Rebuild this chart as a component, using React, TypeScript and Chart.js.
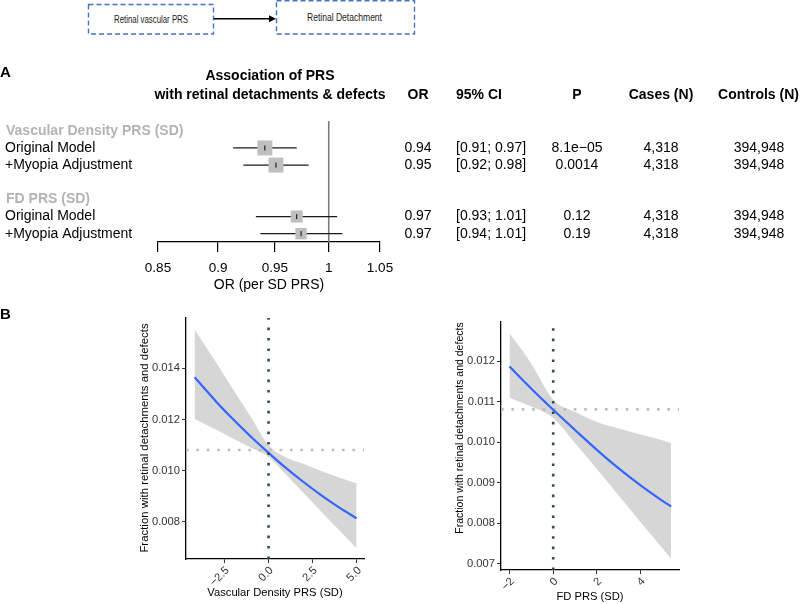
import React, { useEffect, useRef } from 'react';
import { Chart, registerables } from 'chart.js';

Chart.register(...registerables);

const FONT = "'Liberation Sans', Arial, Helvetica, sans-serif";

// ---------- Top diagram ----------
const diagramFrom = 'Retinal vascular PRS';
const diagramTo = 'Retinal Detachment';

// ---------- Panel A (forest plot) ----------
const groupLabels = ['Vascular Density PRS (SD)', 'FD PRS (SD)'];
const groupRows = [0, 4];
const modelLabels = ['Original Model', '+Myopia Adjustment', 'Original Model', '+Myopia Adjustment'];
const modelRows = [1, 2, 5, 6];
const orValues = [0.941, 0.951, 0.970, 0.974];
const ciLower = [0.913, 0.922, 0.933, 0.937];
const ciUpper = [0.970, 0.981, 1.008, 1.013];
const studyWeights = [1.0, 1.0, 0.8, 0.76];
const orLabels = ['0.94', '0.95', '0.97', '0.97'];
const ciLabels = ['[0.91; 0.97]', '[0.92; 0.98]', '[0.93; 1.01]', '[0.94; 1.01]'];
const pLabels = ['8.1e\u221205', '0.0014', '0.12', '0.19'];
const casesLabels = ['4,318', '4,318', '4,318', '4,318'];
const controlsLabels = ['394,948', '394,948', '394,948', '394,948'];
const orAxisTicks = [0.85, 0.9, 0.95, 1, 1.05];
const orAxisTickLabels = ['0.85', '0.9', '0.95', '1', '1.05'];

// ---------- Panel B left (Vascular Density PRS) ----------
const vdX = [-4.2, -3, -2, -1, 0, 1, 2, 3, 4, 5];
const vdFit = [0.01365, 0.01272, 0.01200, 0.01133, 0.01070, 0.01010, 0.00955, 0.00904, 0.00857, 0.00814];
const vdUpper = [0.01552, 0.01425, 0.01317, 0.01209, 0.01100, 0.01052, 0.01026, 0.00999, 0.00974, 0.00951];
const vdLower = [0.01202, 0.01161, 0.01125, 0.01090, 0.01055, 0.00984, 0.00912, 0.00840, 0.00768, 0.00697];
const vdRefRate = 0.01081;
const vdXTicks = [-2.5, 0, 2.5, 5];
const vdXTickLabels = ['\u22122.5', '0.0', '2.5', '5.0'];
const vdYTicks = [0.008, 0.010, 0.012, 0.014];

// ---------- Panel B right (FD PRS) ----------
const fdX = [-2, -1, 0, 1, 2, 3, 4, 5, 5.4];
const fdFit = [0.01187, 0.01132, 0.01080, 0.01030, 0.00981, 0.00935, 0.00893, 0.00855, 0.00841];
const fdUpper = [0.01269, 0.01194, 0.01105, 0.01075, 0.01050, 0.01034, 0.01019, 0.01005, 0.00998];
const fdLower = [0.01110, 0.01088, 0.01060, 0.00998, 0.00933, 0.00868, 0.00802, 0.00738, 0.00712];
const fdRefRate = 0.01081;
const fdXTicks = [-2, 0, 2, 4];
const fdXTickLabels = ['\u22122', '0', '2', '4'];
const fdYTicks = [0.007, 0.008, 0.009, 0.010, 0.011, 0.012];

const yTitle = 'Fraction with retinal detachments and defects';

Chart.defaults.font.family = FONT;

function forestConfig(): any {
  const datasets: any[] = [];
  datasets.push({
    data: modelRows.map((r, i) => ({ x: orValues[i], y: r })),
    showLine: false,
    pointStyle: 'line',
    pointRotation: 90,
    pointRadius: 2.5,
    pointBorderColor: '#000',
    pointBorderWidth: 1,
    order: 0,
  });
  datasets.push({
    data: modelRows.map((r, i) => ({ x: orValues[i], y: r })),
    showLine: false,
    pointStyle: 'rect',
    pointRadius: studyWeights.map((w) => 10.6 * w),
    pointBackgroundColor: '#bfbfbf',
    pointBorderWidth: 0,
    order: 1,
  });
  modelRows.forEach((r, i) => {
    datasets.push({
      data: [{ x: ciLower[i], y: r }, { x: ciUpper[i], y: r }],
      borderColor: '#1a1a1a',
      borderWidth: 1.2,
      pointRadius: 0,
      order: 2,
    });
  });
  datasets.push({
    data: [{ x: 1, y: -0.571 }, { x: 1, y: 6.484 }],
    borderColor: '#7a7a7a',
    borderWidth: 1.6,
    pointRadius: 0,
    order: 3,
  });

  const textPlugin = {
    id: 'forestText',
    afterDraw(chart: any) {
      const ctx = chart.ctx;
      const ys = chart.scales.y;
      const off = 60;
      ctx.save();
      ctx.textBaseline = 'middle';
      ctx.fillStyle = '#000';
      ctx.font = `bold 15px ${FONT}`;
      ctx.textAlign = 'left';
      ctx.fillText('A', 0, 73 - off);
      ctx.font = `bold 14px ${FONT}`;
      ctx.textAlign = 'center';
      ctx.fillText('Association of PRS', 270, 76 - off);
      ctx.fillText('with retinal detachments & defects', 270, 95 - off);
      ctx.fillText('OR', 418, 95 - off);
      ctx.fillText('P', 577, 95 - off);
      ctx.fillText('Cases (N)', 661, 95 - off);
      ctx.fillText('Controls (N)', 758.5, 95 - off);
      ctx.textAlign = 'left';
      ctx.fillText('95% CI', 456, 95 - off);
      ctx.fillStyle = '#b3b3b3';
      groupLabels.forEach((g, i) => {
        ctx.fillText(g, 6, ys.getPixelForValue(groupRows[i]));
      });
      ctx.font = `14px ${FONT}`;
      ctx.fillStyle = '#000';
      modelLabels.forEach((m, i) => {
        const y = ys.getPixelForValue(modelRows[i]);
        ctx.textAlign = 'left';
        ctx.fillText(m, 5, y);
        ctx.fillText(ciLabels[i], 456, y);
        ctx.textAlign = 'center';
        ctx.fillText(orLabels[i], 418, y);
        ctx.fillText(pLabels[i], 577, y);
        ctx.fillText(casesLabels[i], 661, y);
        ctx.fillText(controlsLabels[i], 759, y);
      });
      ctx.restore();
    },
  };

  return {
    type: 'line',
    data: { datasets },
    plugins: [textPlugin],
    options: {
      responsive: false,
      animation: false,
      devicePixelRatio: 1,
      layout: { padding: { left: 158, right: 420, top: 61, bottom: 0 } },
      plugins: { legend: { display: false }, tooltip: { enabled: false } },
      scales: {
        x: {
          type: 'logarithmic',
          min: 0.85,
          max: 1.05,
          afterBuildTicks: (s: any) => {
            s.ticks = orAxisTicks.map((v) => ({ value: v }));
          },
          ticks: {
            callback: (_v: any, i: number) => orAxisTickLabels[i],
            autoSkip: false,
            maxRotation: 0,
            color: '#000',
            font: { size: 13.5 },
            padding: 8,
          },
          grid: { drawOnChartArea: false, drawTicks: true, tickLength: 10, color: '#000', lineWidth: 1.2 },
          border: { display: true, color: '#000', width: 1.2 },
          title: { display: true, text: 'OR (per SD PRS)', color: '#000', font: { size: 14 }, padding: { top: 0, bottom: 6 } },
          afterFit: (s: any) => {
            s.height = 58;
          },
        },
        y: { type: 'linear', display: false, min: -0.571, max: 6.484, reverse: true },
      },
    },
  };
}

interface CurveParams {
  xs: number[];
  fit: number[];
  upper: number[];
  lower: number[];
  refRate: number;
  xMin: number;
  xMax: number;
  yMin: number;
  yMax: number;
  xTicks: number[];
  xTickLabels: string[];
  yTicks: number[];
  xTitle: string;
  padding: { left: number; right: number; top: number; bottom: number };
  xAxisHeight: number;
  xTitlePad: number;
  yTitleX: number;
  yTitleY: number;
  yTitleSize: number;
  panelLetter?: string;
}

function curveConfig(p: CurveParams): any {
  const pts = (arr: number[]) => p.xs.map((x, i) => ({ x, y: arr[i] }));
  const datasets = [
    {
      data: pts(p.upper),
      borderColor: 'rgba(0,0,0,0)',
      borderWidth: 0,
      pointRadius: 0,
      fill: '+1',
      backgroundColor: 'rgb(214,214,214)',
      cubicInterpolationMode: 'monotone',
      order: 4,
    },
    {
      data: pts(p.lower),
      borderColor: 'rgba(0,0,0,0)',
      borderWidth: 0,
      pointRadius: 0,
      fill: false,
      cubicInterpolationMode: 'monotone',
      order: 5,
    },
    {
      data: [{ x: p.xMin, y: p.refRate }, { x: p.xMax, y: p.refRate }],
      borderColor: '#bdbdbd',
      borderWidth: 2.6,
      borderDash: [2.6, 7.8],
      pointRadius: 0,
      fill: false,
      order: 3,
    },
    {
      data: pts(p.fit),
      borderColor: '#3366FF',
      borderWidth: 2.2,
      pointRadius: 0,
      fill: false,
      cubicInterpolationMode: 'monotone',
      order: 2,
    },
    {
      data: [{ x: 0, y: p.yMin }, { x: 0, y: p.yMax }],
      borderColor: '#2F4F4F',
      borderWidth: 2.6,
      borderDash: [2.6, 7.8],
      pointRadius: 0,
      fill: false,
      order: 1,
    },
  ];

  const titlePlugin = {
    id: 'yTitleText',
    afterDraw(chart: any) {
      const ctx = chart.ctx;
      ctx.save();
      ctx.fillStyle = '#000';
      if (p.panelLetter) {
        ctx.font = `bold 15px ${FONT}`;
        ctx.textAlign = 'left';
        ctx.textBaseline = 'middle';
        ctx.fillText(p.panelLetter, 0, 15);
      }
      ctx.translate(p.yTitleX, p.yTitleY);
      ctx.rotate(-Math.PI / 2);
      ctx.font = `${p.yTitleSize}px ${FONT}`;
      ctx.textAlign = 'center';
      ctx.textBaseline = 'middle';
      ctx.fillText(yTitle, 0, 0);
      ctx.restore();
    },
  };

  const axisCommon = {
    grid: { drawOnChartArea: false, drawTicks: true, tickLength: 4, color: '#333', lineWidth: 1 },
    border: { display: true, color: '#000', width: 1.3 },
  };

  return {
    type: 'line',
    data: { datasets },
    plugins: [titlePlugin],
    options: {
      responsive: false,
      animation: false,
      devicePixelRatio: 1,
      layout: { padding: p.padding },
      plugins: { legend: { display: false }, tooltip: { enabled: false } },
      scales: {
        x: {
          type: 'linear',
          min: p.xMin,
          max: p.xMax,
          afterBuildTicks: (s: any) => {
            s.ticks = p.xTicks.map((v) => ({ value: v }));
          },
          ticks: {
            callback: (_v: any, i: number) => p.xTickLabels[i],
            autoSkip: false,
            minRotation: 45,
            maxRotation: 45,
            color: '#333',
            font: { size: 11.2 },
            padding: 1,
            labelOffset: 3,
          },
          ...axisCommon,
          title: { display: true, text: p.xTitle, color: '#000', font: { size: 11.2 }, padding: { top: 0, bottom: p.xTitlePad } },
          afterFit: (s: any) => {
            s.height = p.xAxisHeight;
          },
        },
        y: {
          type: 'linear',
          min: p.yMin,
          max: p.yMax,
          afterBuildTicks: (s: any) => {
            s.ticks = p.yTicks.map((v) => ({ value: v }));
          },
          ticks: {
            callback: (v: any) => Number(v).toFixed(3),
            color: '#333',
            font: { size: 11.2 },
            padding: 2,
          },
          ...axisCommon,
          afterFit: (s: any) => {
            s.width = 56;
          },
        },
      },
    },
  };
}

function vdConfig() {
  return curveConfig({
    xs: vdX,
    fit: vdFit,
    upper: vdUpper,
    lower: vdLower,
    refRate: vdRefRate,
    xMin: -4.69,
    xMax: 5.42,
    yMin: 0.00655,
    yMax: 0.01597,
    xTicks: vdXTicks,
    xTickLabels: vdXTickLabels,
    yTicks: vdYTicks,
    xTitle: 'Vascular Density PRS (SD)',
    padding: { left: 130, right: 16, top: 18, bottom: 0 },
    xAxisHeight: 45,
    xTitlePad: 4,
    yTitleX: 145,
    yTitleY: 138,
    yTitleSize: 11.4,
    panelLetter: 'B',
  });
}

function fdConfig() {
  return curveConfig({
    xs: fdX,
    fit: fdFit,
    upper: fdUpper,
    lower: fdLower,
    refRate: fdRefRate,
    xMin: -2.39,
    xMax: 5.76,
    yMin: 0.00684,
    yMax: 0.01297,
    xTicks: fdXTicks,
    xTickLabels: fdXTickLabels,
    yTicks: fdYTicks,
    xTitle: 'FD PRS (SD)',
    padding: { left: 45, right: 21, top: 22, bottom: 0 },
    xAxisHeight: 34,
    xTitlePad: 0,
    yTitleX: 60,
    yTitleY: 128,
    yTitleSize: 10.5,
  });
}

function ChartCanvas(props: { make: () => any; left: number; top: number; width: number; height: number }) {
  const ref = useRef<HTMLCanvasElement | null>(null);
  useEffect(() => {
    if (!ref.current) return;
    const chart = new Chart(ref.current, props.make());
    return () => chart.destroy();
  }, []);
  return (
    <canvas
      ref={ref}
      width={props.width}
      height={props.height}
      style={{ position: 'absolute', left: props.left, top: props.top, width: props.width, height: props.height, display: 'block' }}
    />
  );
}

function Diagram() {
  const blue = '#4472C4';
  return (
    <svg style={{ position: 'absolute', left: 0, top: 0 }} width={800} height={40}>
      <rect x={88.5} y={4.5} width={125} height={29.5} fill="none" stroke={blue} strokeWidth={1.4} strokeDasharray="5 3" />
      <rect x={276.5} y={0.8} width={138} height={33.2} fill="none" stroke={blue} strokeWidth={1.4} strokeDasharray="5 3" />
      <line x1={214} y1={18.7} x2={270} y2={18.7} stroke="#000" strokeWidth={1.5} />
      <polygon points="276,18.7 269,15.2 269,22.2" fill="#000" />
      <text x={114} y={23} fontFamily={FONT} fontSize={11.5} fill="#1a1a1a" textLength={74} lengthAdjust="spacingAndGlyphs">
        {diagramFrom}
      </text>
      <text x={307} y={20.8} fontFamily={FONT} fontSize={11.5} fill="#1a1a1a" textLength={75} lengthAdjust="spacingAndGlyphs">
        {diagramTo}
      </text>
    </svg>
  );
}

export default function App() {
  useEffect(() => {
    document.body.style.margin = '0';
  }, []);
  return (
    <div style={{ position: 'absolute', left: 0, top: 0, width: 800, height: 604, background: '#fff', overflow: 'hidden' }}>
      <Diagram />
      <ChartCanvas make={forestConfig} left={0} top={60} width={800} height={240} />
      <ChartCanvas make={vdConfig} left={0} top={300} width={380} height={304} />
      <ChartCanvas make={fdConfig} left={400} top={300} width={300} height={304} />
    </div>
  );
}
